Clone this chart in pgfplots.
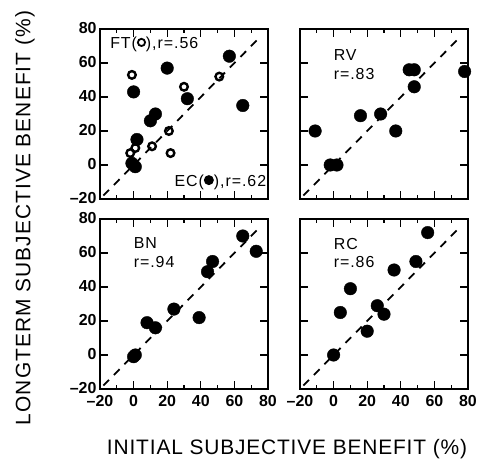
\documentclass[border=0pt]{standalone}
\usepackage{fontspec}
\setmainfont{Liberation Sans}
\usepackage{pgfplots}
\pgfplotsset{compat=1.18}

\pgfplotsset{
  panel/.style={
    scale only axis, width=168bp, height=170bp,
    xmin=-20, xmax=80, ymin=-20, ymax=80,
    xtick={-20,0,...,80}, ytick={-20,0,...,80},
    minor x tick num=1,
    tick align=inside, major tick length=8bp, minor tick length=4bp,
    axis line style={line width=1.6bp},
    every tick/.style={line width=1.3bp, black},
    clip=false,
    /pgf/number format/assume math mode=true,
    tick label style={font=\fontsize{16}{18}\selectfont\bfseries},
    xticklabel style={yshift=-3bp},
    yticklabel style={yshift=1bp},
    xticklabels={\textendash20,0,20,40,60,80},
    yticklabels={\textendash20,0,20,40,60,80},
  },
  noxlab/.style={xticklabels={}},
  noylab/.style={yticklabels={}},
  diag/.style={black, line width=1.8bp, dash pattern=on 8bp off 7bp},
  full/.style={only marks, mark=*, mark size=6.3bp, mark options={fill=black, draw=black}},
  hollow/.style={only marks, mark=o, mark size=3.8bp, mark options={line width=2.4bp, draw=black}},
}
\tikzset{lab/.style={font=\fontsize{16}{19}\selectfont\addfontfeature{LetterSpace=6}, align=left, inner sep=0pt}}

\newsavebox\ringbox
\newsavebox\dotbox
\sbox\ringbox{\tikz[baseline={(0,-6bp)}]\draw[line width=1.8bp] (0,0) circle (3.6bp);}
\sbox\dotbox{\tikz[baseline={(0,-6bp)}]\fill (0,0) circle (5bp);}

\begin{document}
\begin{tikzpicture}
% top left: FT and EC
\begin{axis}[panel, noxlab, at={(0bp,190bp)}]
  \addplot[diag] coordinates {(-18,-18) (75,75)};
  \addplot[hollow] coordinates {
    (-1,53) (30,46) (51,52) (21,20) (22,7) (11,11) (-2,7) (1,10)
  };
  \addplot[full] coordinates {
    (57,64) (20,57) (0,43) (32,39) (65,35) (13,30) (10,26) (2,15) (-1,1) (1,-1)
  };
  \node[lab, anchor=west] at (axis cs:-14,71) {FT(\usebox\ringbox),r=.56};
  \node[lab, anchor=east] at (axis cs:79,-10) {EC(\usebox\dotbox),r=.62};
\end{axis}
% top right: RV
\begin{axis}[panel, noxlab, noylab, at={(200bp,190bp)}]
  \addplot[diag] coordinates {(-18,-18) (75,75)};
  \addplot[full] coordinates {
    (-11,20) (-2,0) (2,0) (16,29) (28,30) (37,20) (45,56) (48,56) (48,46) (78,55)
  };
  \node[lab, anchor=north west] at (axis cs:0,68) {RV\\r=.83};
\end{axis}
% bottom left: BN
\begin{axis}[panel, at={(0bp,0bp)}]
  \addplot[diag] coordinates {(-18,-18) (75,75)};
  \addplot[full] coordinates {
    (0,-1) (1,0) (8,19) (13,16) (24,27) (39,22) (44,49) (47,55) (65,70) (73,61)
  };
  \node[lab, anchor=north west] at (axis cs:0,69) {BN\\r=.94};
\end{axis}
% bottom right: RC
\begin{axis}[panel, noylab, at={(200bp,0bp)}]
  \addplot[diag] coordinates {(-18,-18) (75,75)};
  \addplot[full] coordinates {
    (0,0) (4,25) (10,39) (20,14) (26,29) (30,24) (36,50) (49,55) (56,72)
  };
  \node[lab, anchor=north west] at (axis cs:0,69) {RC\\r=.86};
\end{axis}
\node[rotate=90, font=\fontsize{21}{23}\selectfont\addfontfeature{LetterSpace=5}]
  at (-75bp,171bp) {LONGTERM SUBJECTIVE BENEFIT (\%)};
\node[font=\fontsize{21}{23}\selectfont\addfontfeature{LetterSpace=4}]
  at (187bp,-60bp) {INITIAL SUBJECTIVE BENEFIT (\%)};
\pgfresetboundingbox
\useasboundingbox (-100bp,-75bp) rectangle (382bp,389bp);
\end{tikzpicture}
\end{document}
